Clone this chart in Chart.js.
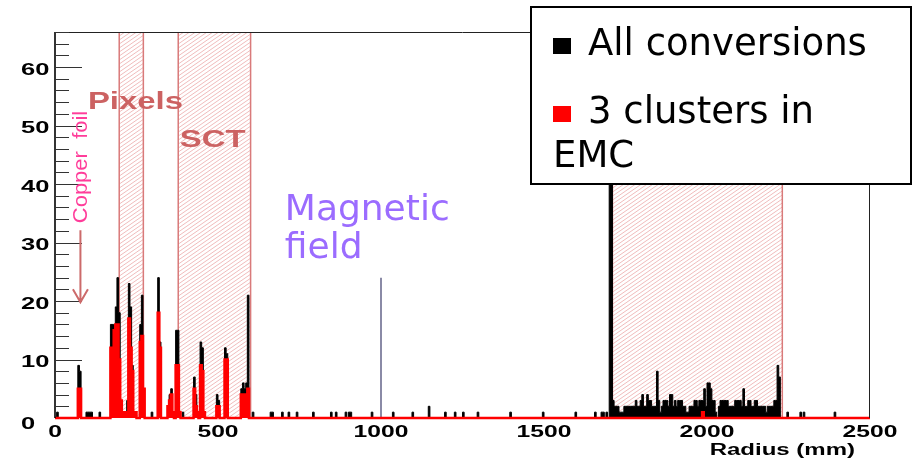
<!DOCTYPE html>
<html>
<head>
<meta charset="utf-8">
<script src="https://cdn.jsdelivr.net/npm/chart.js@4.4.1/dist/chart.umd.min.js"></script>
<style>
  html, body { margin: 0; padding: 0; background: #ffffff; }
  canvas { display: block; }
</style>
</head>
<body>
<canvas id="chart" width="914" height="459"></canvas>
<script>
// Histogram binning (mm)
const binWidth = 5;
const radiusMin = 0;
const radiusMax = 2500;

// Axis tick labels
const yTickLabels = [0, 10, 20, 30, 40, 50, 60];
const xTickLabels = [0, 500, 1000, 1500, 2000, 2500];

// All conversions: non-empty bins (lower edge, mm) and entries, inner detector + cavity
const allBins = [10, 75, 80, 100, 105, 110, 115, 140, 175, 180, 185, 190, 195, 200, 205, 210, 215, 220, 225,
  230, 235, 240, 245, 250, 265, 270, 275, 300, 320, 325, 350, 355, 360, 365, 375, 380, 385, 395,
  430, 435, 440, 450, 455, 460, 500, 505, 525, 530, 575, 580, 585, 590, 595, 610, 665, 670, 700,
  720, 745, 795, 850, 865, 895, 905, 910, 975, 1040, 1100, 1150, 1200, 1230, 1255, 1300, 1400,
  1500, 1600, 1660, 1680, 1685, 1695, 2250, 2290, 2300, 2395];
const allCounts = [1, 9, 8, 1, 1, 1, 1, 1, 16, 16, 16, 19, 24, 18, 3, 1, 1, 1, 3,
  23, 19, 9, 1, 1, 16, 21, 5, 1, 24, 13, 2, 4, 5, 1, 15, 15, 1, 1,
  7, 4, 1, 13, 12, 1, 4, 3, 12, 11, 5, 6, 5, 6, 21, 1, 1, 1, 1,
  1, 1, 1, 1, 1, 1, 1, 1, 1, 1, 1, 2, 1, 1, 1, 1, 1,
  1, 1, 1, 1, 1, 1, 1, 1, 1, 1];

// All conversions inside the calorimeter, consecutive bins starting at caloFirstBin
const caloFirstBin = 1705;
const caloCounts = [70, 70, 3, 2, 2, 2, 1, 1, 1, 2, 2, 2, 2, 2, 2, 2, 3, 2, 2, 3,
  4, 2, 2, 4, 3, 3, 2, 2, 2, 8, 3, 1, 2, 3, 3, 3, 2, 4, 4, 2,
  3, 2, 3, 3, 3, 2, 2, 1, 1, 2, 2, 2, 3, 3, 2, 3, 3, 3, 5, 2,
  6, 6, 5, 3, 3, 1, 0, 2, 3, 3, 3, 3, 3, 2, 2, 2, 2, 3, 3, 3,
  3, 2, 5, 2, 2, 3, 3, 2, 2, 3, 3, 2, 2, 2, 2, 2, 1, 2, 2, 2,
  2, 3, 3, 9, 7];

// Conversions with 3 clusters in the EM calorimeter
const emcBins = [75, 80, 175, 180, 185, 190, 195, 200, 205, 210, 215, 220, 225, 230, 235, 240, 245, 250,
  265, 270, 275, 320, 325, 350, 355, 360, 365, 375, 380, 385, 430, 435, 440, 450, 455, 460,
  500, 505, 525, 530, 575, 580, 585, 590, 595, 1990];
const emcCounts = [5, 5, 12, 12, 15, 16, 16, 10, 3, 1, 1, 1, 1, 17, 12, 8, 1, 1,
  13, 14, 5, 18, 12, 2, 3, 4, 1, 9, 9, 1, 5, 2, 1, 9, 8, 1,
  2, 2, 10, 10, 4, 4, 4, 1, 5, 1];

// Solenoid position marker
const fieldRadius = 1000;
const fieldMarkerHeight = 24;

// Detector envelopes [from, to] in mm: pixels, SCT, EM calorimeter
const detectorRegions = [[197, 271], [378, 600], [1710, 2231]];

const nBins = (radiusMax - radiusMin) / binWidth;

function histogram(bins, counts) {
  const h = new Array(nBins).fill(0);
  bins.forEach((r, i) => { h[Math.floor((r - radiusMin) / binWidth)] = counts[i]; });
  return h;
}
function stepPoints(h) {
  const pts = h.map((v, i) => ({ x: radiusMin + i * binWidth, y: v }));
  pts.push({ x: radiusMax, y: h[h.length - 1] });
  return pts;
}

const allHist = histogram(allBins, allCounts);
caloCounts.forEach((v, i) => { allHist[Math.floor((caloFirstBin - radiusMin) / binWidth) + i] = v; });
const emcHist = histogram(emcBins, emcCounts);

// Text annotations placed in data coordinates
const annotations = [
  { text: 'Pixels', r: 101, v: 52.8, font: 'bold 23px "Liberation Sans"', color: '#cc6262', sx: 1.43 },
  { text: 'SCT', r: 383, v: 46.3, font: 'bold 23px "Liberation Sans"', color: '#cc6262', sx: 1.43 },
  { text: 'Magnetic', r: 705, v: 33.8, font: '36px "DejaVu Sans"', color: '#9b6cff', sx: 1 },
  { text: 'field', r: 705, v: 27.3, font: '36px "DejaVu Sans"', color: '#9b6cff', sx: 1 }
];
const copperFoil = { text: 'Copper  foil', r: 78, v: 33.3, arrowFrom: 32.1, arrowTo: 19.8 };

function stretchText(ctx, text, x, y, font, color, sx, align) {
  ctx.save();
  ctx.font = font;
  ctx.fillStyle = color;
  ctx.textBaseline = 'alphabetic';
  ctx.textAlign = 'left';
  const w = ctx.measureText(text).width * sx;
  const left = align === 'center' ? x - w / 2 : align === 'right' ? x - w : x;
  ctx.translate(left, y);
  ctx.scale(sx, 1);
  ctx.fillText(text, 0, 0);
  ctx.restore();
}

// Hatched detector envelopes behind the histograms
const regionsPlugin = {
  id: 'regions',
  beforeDatasetsDraw(chart) {
    const { ctx, chartArea: a, scales: { x } } = chart;
    detectorRegions.forEach(([r0, r1]) => {
      const x0 = x.getPixelForValue(r0), x1 = x.getPixelForValue(r1);
      ctx.save();
      ctx.beginPath();
      ctx.rect(x0, a.top, x1 - x0, a.bottom - a.top);
      ctx.clip();
      ctx.strokeStyle = 'rgba(220,95,95,0.6)';
      ctx.lineWidth = 0.7;
      const slope = 0.69, step = 5.8;
      const h = a.bottom - a.top;
      ctx.beginPath();
      for (let s = x0 - h / slope; s < x1; s += step) {
        ctx.moveTo(s, a.bottom);
        ctx.lineTo(s + h / slope, a.top);
      }
      ctx.stroke();
      ctx.restore();
      ctx.save();
      ctx.strokeStyle = '#d97a7a';
      ctx.lineWidth = 1.5;
      ctx.beginPath();
      ctx.moveTo(x0, a.top); ctx.lineTo(x0, a.bottom);
      ctx.moveTo(x1, a.top); ctx.lineTo(x1, a.bottom);
      ctx.stroke();
      ctx.restore();
    });
  }
};

// Frame, inward ticks, tick labels, annotations and legend
const framePlugin = {
  id: 'frame',
  afterDatasetsDraw(chart) {
    const { ctx, chartArea: a, scales: { x, y } } = chart;
    ctx.save();
    ctx.strokeStyle = '#222';
    ctx.lineWidth = 1;
    ctx.beginPath();
    ctx.moveTo(a.left, a.top + 0.5); ctx.lineTo(a.right, a.top + 0.5);
    ctx.moveTo(a.right - 0.5, a.top); ctx.lineTo(a.right - 0.5, a.bottom);
    ctx.stroke();
    ctx.lineWidth = 1.6;
    ctx.strokeStyle = '#000';
    ctx.beginPath();
    ctx.moveTo(a.left, a.top); ctx.lineTo(a.left, a.bottom);
    ctx.stroke();
    // y ticks: major every 10, minor every 2, pointing inward
    ctx.lineWidth = 1.1;
    ctx.strokeStyle = '#333';
    ctx.beginPath();
    for (let v = 2; v <= y.max; v += 2) {
      const py = Math.round(y.getPixelForValue(v)) + 0.5;
      const len = v % 10 === 0 ? 27 : 14;
      ctx.moveTo(a.left, py); ctx.lineTo(a.left + len, py);
    }
    ctx.stroke();
    ctx.restore();

    const tickFont = 'bold 17px "Liberation Sans"';
    yTickLabels.forEach(v => {
      const off = v === 0 ? 11 : 7.5;
      stretchText(ctx, String(v), 21, y.getPixelForValue(v) + off, tickFont, '#000', 1.5, 'left');
    });
    xTickLabels.forEach(v => {
      stretchText(ctx, String(v), x.getPixelForValue(v), 437, tickFont, '#000', 1.45, 'center');
    });
    stretchText(ctx, 'Radius (mm)', 855, 455, 'bold 16px "Liberation Sans"', '#000', 1.5, 'right');

    annotations.forEach(n => {
      stretchText(ctx, n.text, x.getPixelForValue(n.r), y.getPixelForValue(n.v), n.font, n.color, n.sx, 'left');
    });

    // Copper foil label and arrow
    const cx = x.getPixelForValue(copperFoil.r);
    ctx.save();
    ctx.translate(cx + 1, y.getPixelForValue(copperFoil.v));
    ctx.rotate(-Math.PI / 2);
    ctx.scale(1, 0.88);
    ctx.font = '22px "Liberation Sans"';
    ctx.fillStyle = '#ff3d9a';
    ctx.textBaseline = 'middle';
    ctx.textAlign = 'left';
    ctx.fillText(copperFoil.text, 0, 0);
    ctx.restore();
    const ay0 = y.getPixelForValue(copperFoil.arrowFrom), ay1 = y.getPixelForValue(copperFoil.arrowTo);
    ctx.save();
    ctx.strokeStyle = '#cc6a6a';
    ctx.lineWidth = 2;
    ctx.beginPath();
    ctx.moveTo(cx, ay0); ctx.lineTo(cx, ay1);
    ctx.moveTo(cx - 7.5, ay1 - 13); ctx.lineTo(cx, ay1); ctx.lineTo(cx + 7.5, ay1 - 13);
    ctx.stroke();
    ctx.restore();
  },
  afterDraw(chart) {
    const { ctx } = chart;
    const ds = chart.data.datasets;
    const items = [ds[1], ds[0]];
    ctx.save();
    ctx.fillStyle = '#fff';
    ctx.fillRect(531, 7, 380, 177);
    ctx.strokeStyle = '#000';
    ctx.lineWidth = 2;
    ctx.strokeRect(531, 7, 380, 177);
    ctx.font = '37px "DejaVu Sans"';
    ctx.fillStyle = '#000';
    ctx.textBaseline = 'alphabetic';
    const baselines = [55, 123];
    items.forEach((d, i) => {
      ctx.fillStyle = d.backgroundColor;
      ctx.fillRect(553, baselines[i] - 17, 18, 16);
      ctx.fillStyle = '#000';
      const words = d.label.split(' ');
      let line = '', lineX = 588, by = baselines[i];
      const maxW = 300;
      words.forEach(w => {
        const test = line ? line + ' ' + w : w;
        if (line && ctx.measureText(test).width > maxW) {
          ctx.fillText(line, lineX, by);
          line = w; lineX = 553; by += 44;
        } else {
          line = test;
        }
      });
      ctx.fillText(line, lineX, by);
    });
    ctx.restore();
  }
};

new Chart(document.getElementById('chart'), {
  type: 'line',
  data: {
    datasets: [
      {
        label: '3 clusters in EMC',
        data: stepPoints(emcHist),
        stepped: 'after',
        fill: 'origin',
        backgroundColor: '#ff0000',
        borderColor: '#ff0000',
        borderWidth: 2.5,
        pointRadius: 0,
        clip: { left: 0, right: 0, top: 0, bottom: 3 },
        order: 0
      },
      {
        label: 'All conversions',
        data: stepPoints(allHist),
        stepped: 'after',
        fill: 'origin',
        backgroundColor: '#000000',
        borderColor: '#000000',
        borderWidth: 1,
        pointRadius: 0,
        order: 1
      },
      {
        label: 'Magnetic field',
        data: [{ x: fieldRadius, y: 0 }, { x: fieldRadius, y: fieldMarkerHeight }],
        borderColor: '#8a8aa6',
        borderWidth: 2,
        pointRadius: 0,
        fill: false,
        order: 2
      }
    ]
  },
  options: {
    responsive: false,
    animation: false,
    layout: { padding: { left: 55, right: 44, top: 32, bottom: 41 } },
    elements: { line: { tension: 0 } },
    scales: {
      x: { type: 'linear', min: radiusMin, max: radiusMax, display: false },
      y: { type: 'linear', min: 0, max: 66, display: false }
    },
    plugins: {
      legend: { display: false },
      tooltip: { enabled: false }
    }
  },
  plugins: [regionsPlugin, framePlugin]
});
</script>
</body>
</html>
